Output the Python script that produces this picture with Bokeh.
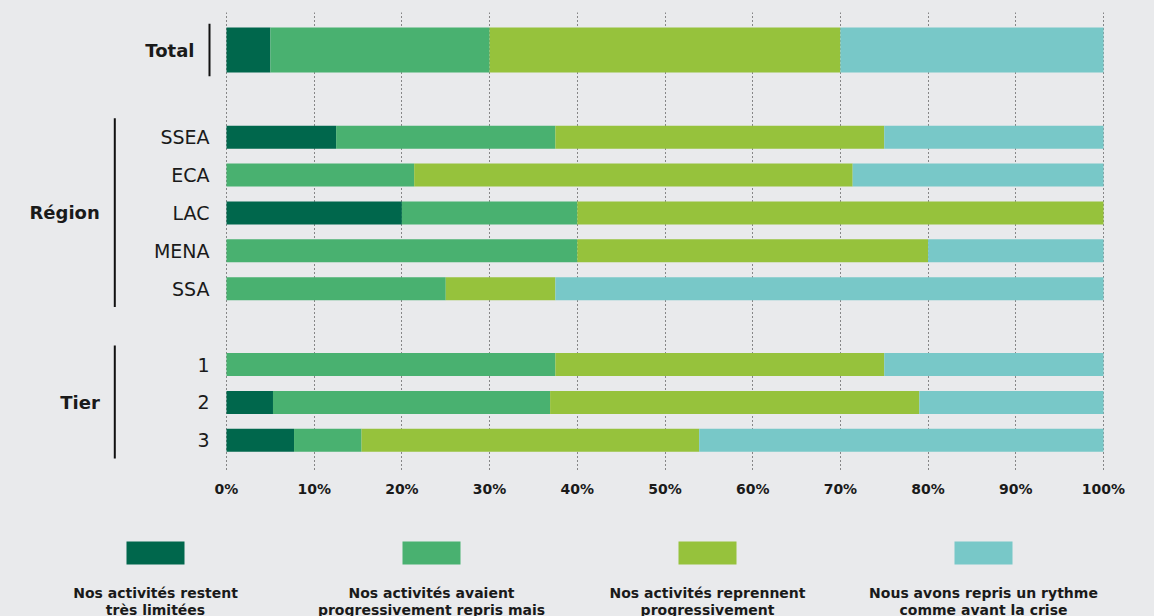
from bokeh.plotting import figure
from bokeh.models import ColumnDataSource, Range1d, FixedTicker
from bokeh.layouts import column
from bokeh.core.properties import value
from bokeh.embed import file_html
from bokeh.resources import INLINE

# ---------------- data ----------------
categories = ["Total", "SSEA", "ECA", "LAC", "MENA", "SSA", "1", "2", "3"]
groups = ["Total", "Région", "Région", "Région", "Région", "Région", "Tier", "Tier", "Tier"]
s_limited = [5.0, 12.5, 0.0, 20.0, 0.0, 0.0, 0.0, 5.3, 7.7]
s_partial = [25.0, 25.0, 21.4, 20.0, 40.0, 25.0, 37.5, 31.6, 7.7]
s_resume = [40.0, 37.5, 50.0, 60.0, 40.0, 12.5, 37.5, 42.1, 38.5]
s_normal = [30.0, 25.0, 28.6, 0.0, 20.0, 62.5, 25.0, 21.0, 46.1]
tick_values = [0, 10, 20, 30, 40, 50, 60, 70, 80, 90, 100]
tick_labels = ["0%", "10%", "20%", "30%", "40%", "50%", "60%", "70%", "80%", "90%", "100%"]
legend_labels = [
    "Nos activités restent\ntrès limitées",
    "Nos activités avaient\nprogressivement repris mais",
    "Nos activités reprennent\nprogressivement",
    "Nous avons repris un rythme\ncomme avant la crise",
]

# ---------------- styles / layout ----------------
COLORS = ["#00674c", "#49b170", "#96c23c", "#78c8c8"]
BG = "#e9eaec"
TXT = "#1a1a1a"
FONT = value("DejaVu Sans")
W = 1154
H_MAIN = 508
H_LEG = 108
PX_PER_PCT = 8.77
ZERO_PX = 226.0          # canvas x of 0 %
ROW_PX = 37.9            # pixels per row unit
FIRST_ROW_PX = 49.5      # canvas y of first row centre
FRAME_TOP_PX = 12
FRAME_BOTTOM_PX = 470

# row layout (in row units): Total, gap, regions, gap, tiers
ROW_POS = [0.0, 2.3, 3.3, 4.3, 5.3, 6.3, 8.3, 9.3, 10.3]
BAR_H = [1.187 if g == "Total" else 0.607 for g in groups]


def xpx(px):
    return (px - ZERO_PX) / PX_PER_PCT


x_start = xpx(0)
x_end = xpx(W)
y_top = (FRAME_TOP_PX - FIRST_ROW_PX) / ROW_PX
y_bot = (FRAME_BOTTOM_PX - FIRST_ROW_PX) / ROW_PX

p = figure(width=W, height=H_MAIN, output_backend="svg", toolbar_location=None,
           x_range=Range1d(x_start, x_end), y_range=Range1d(y_bot, y_top),
           y_axis_location=None, min_border_left=0, min_border_right=0,
           min_border_top=FRAME_TOP_PX, min_border_bottom=H_MAIN - FRAME_BOTTOM_PX)
p.background_fill_color = BG
p.border_fill_color = BG
p.outline_line_color = None
p.ygrid.grid_line_color = None

src = ColumnDataSource(dict(y=ROW_POS, h=BAR_H, cat=categories,
                            s1=s_limited, s2=s_partial, s3=s_resume, s4=s_normal))
p.hbar_stack(["s1", "s2", "s3", "s4"], y="y", height="h", fill_color=COLORS,
             line_color=None, source=src)

# x axis
ax = p.xaxis[0]
ax.ticker = FixedTicker(ticks=tick_values)
ax.major_label_overrides = {v: l for v, l in zip(tick_values, tick_labels)}
ax.axis_line_color = None
ax.major_tick_line_color = None
ax.minor_tick_line_color = None
ax.major_label_standoff = 4
ax.major_label_text_font = "DejaVu Sans"
ax.major_label_text_font_style = "bold"
ax.major_label_text_font_size = "14px"
ax.major_label_text_color = TXT
try:
    ax.background_fill_color = BG
except Exception:
    pass

g = p.xgrid[0]
g.ticker = FixedTicker(ticks=tick_values)
g.grid_line_color = "#222222"
g.grid_line_dash = "1 3"
g.grid_line_width = 1

# category labels
cat_x = xpx(ZERO_PX - 17)
p.text(x=[cat_x] * len(categories), y=ROW_POS,
       text=[c if g_ != "Total" else "" for c, g_ in zip(categories, groups)],
       text_align="right", text_baseline="middle", text_font=FONT,
       text_font_size="19px", text_color=TXT)

# group labels and brackets
group_names = []
for g_ in groups:
    if g_ not in group_names:
        group_names.append(g_)
gx0, gy0, gy1, glx, gly = [], [], [], [], []
for name in group_names:
    idx = [i for i, g_ in enumerate(groups) if g_ == name]
    ys = [ROW_POS[i] for i in idx]
    if name == "Total":
        line_px = ZERO_PX - 17
        half = BAR_H[idx[0]] / 2 + 0.1
        y0, y1 = ys[0] - half, ys[0] + half
    else:
        line_px = 114.3
        y0, y1 = min(ys) - 0.5, max(ys) + 0.48
    gx0.append(xpx(line_px))
    gy0.append(y0)
    gy1.append(y1)
    glx.append(xpx(line_px - 15))
    gly.append(sum(ys) / len(ys))
p.segment(x0=gx0, y0=gy0, x1=gx0, y1=gy1, line_color="#111111", line_width=2)
p.text(x=glx, y=gly, text=group_names, text_align="right", text_baseline="middle",
       text_font=FONT, text_font_style="bold", text_font_size="18px", text_color=TXT)

# ---------------- legend figure ----------------
lg = figure(width=W, height=H_LEG, output_backend="svg", toolbar_location=None,
            x_range=Range1d(0, W), y_range=Range1d(H_LEG, 0),
            x_axis_location=None, y_axis_location=None,
            min_border=0, min_border_left=0, min_border_right=0,
            min_border_top=0, min_border_bottom=0)
lg.background_fill_color = BG
lg.border_fill_color = BG
lg.outline_line_color = None
lg.grid.grid_line_color = None

LEG_X0 = 155
LEG_STEP = 276
lx = [LEG_X0 + LEG_STEP * i for i in range(len(legend_labels))]
lg.rect(x=lx, y=[44.5] * len(lx), width=58, height=23, fill_color=COLORS, line_color=None)
tx, ty, tt = [], [], []
for i, lab in enumerate(legend_labels):
    for j, line in enumerate(lab.split("\n")):
        tx.append(lx[i])
        ty.append(84 + 17 * j)
        tt.append(line)
lg.text(x=tx, y=ty, text=tt, text_align="center", text_baseline="alphabetic",
        text_font=FONT, text_font_style="bold", text_font_size="14px", text_color=TXT)

layout = column(p, lg, spacing=0, styles={"background-color": BG})
open("out.html", "w").write(file_html(layout, INLINE))
